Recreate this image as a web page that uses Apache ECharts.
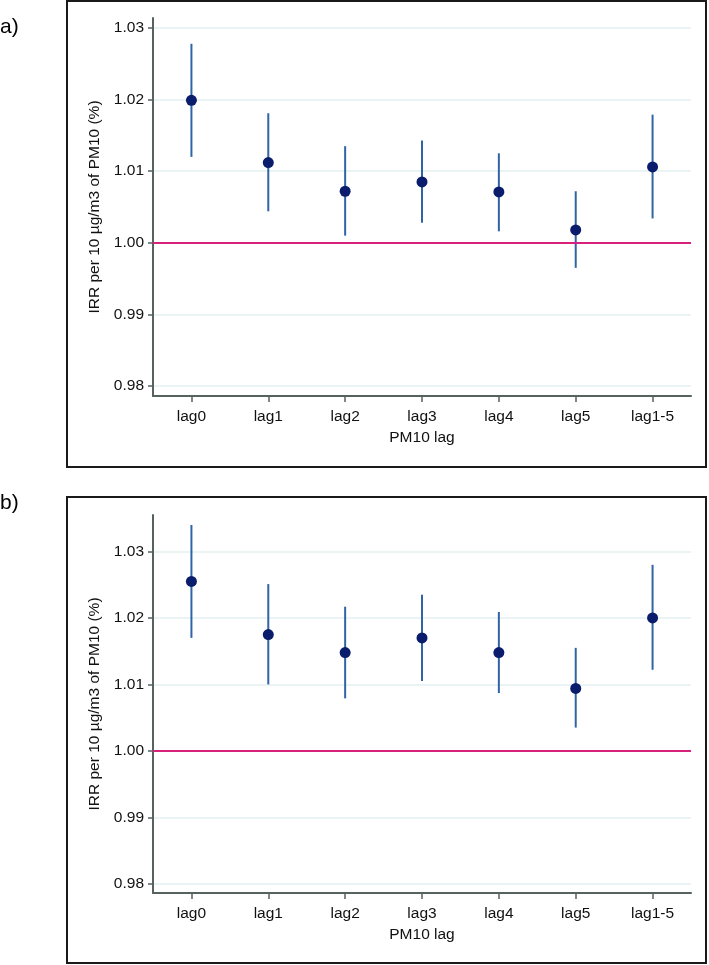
<!DOCTYPE html>
<html><head><meta charset="utf-8">
<script src="https://cdn.jsdelivr.net/npm/echarts@6/dist/echarts.min.js"></script>
<style>html,body{margin:0;padding:0;background:#fff}#c{width:709px;height:965px}</style>
</head><body><div id="c"></div>
<script>
const categories = ['lag0','lag1','lag2','lag3','lag4','lag5','lag1-5'];
const yTicks = [0.98, 0.99, 1.00, 1.01, 1.02, 1.03];
// Panel a
const aEst  = [1.0199, 1.0112, 1.0072, 1.0085, 1.0071, 1.0018, 1.0106];
const aLow  = [1.0120, 1.0044, 1.0010, 1.0028, 1.0016, 0.9965, 1.0034];
const aHigh = [1.0278, 1.0181, 1.0135, 1.0143, 1.0125, 1.0072, 1.0179];
// Panel b
const bEst  = [1.0255, 1.0175, 1.0148, 1.0170, 1.0148, 1.0094, 1.0200];
const bLow  = [1.0170, 1.0100, 1.0079, 1.0105, 1.0087, 1.0035, 1.0122];
const bHigh = [1.0340, 1.0251, 1.0217, 1.0235, 1.0209, 1.0155, 1.0280];
const aRange = [0.9786, 1.0314];
const bRange = [0.9786, 1.0355];

const FONT = '"Liberation Sans", Arial, sans-serif';
const FS = 15.5;
const AXIS_COLOR = '#56625f';
const BAR_COLOR = '#2f64a6';
const DOT_COLOR = '#0a1d6c';
const REF_COLOR = '#d8217a';
const GRID_COLOR = '#e4f1f1';

function yAxisFor(idx, range) {
  return {
    type: 'value', gridIndex: idx, min: range[0], max: range[1],
    name: 'IRR per 10 µg/m3 of PM10 (%)', nameLocation: 'middle', nameGap: 49,
    nameTextStyle: {fontFamily: FONT, fontSize: FS, color: '#111'},
    axisLine: {show: true, lineStyle: {color: AXIS_COLOR, width: 2}},
    axisTick: {show: true, length: 5, customValues: yTicks, lineStyle: {color: AXIS_COLOR, width: 1.5}},
    axisLabel: {customValues: yTicks, fontFamily: FONT, fontSize: FS, color: '#111', margin: 9,
      formatter: v => v.toFixed(2)},
    splitLine: {show: true, lineStyle: {color: GRID_COLOR, width: 1.5}}
  };
}
function xAxisFor(idx) {
  return {
    type: 'category', gridIndex: idx, data: categories, boundaryGap: true,
    name: 'PM10 lag', nameLocation: 'middle', nameGap: 34,
    nameTextStyle: {fontFamily: FONT, fontSize: FS, color: '#111'},
    axisLine: {show: true, lineStyle: {color: AXIS_COLOR, width: 2}},
    axisTick: {show: true, alignWithLabel: true, length: 6, lineStyle: {color: AXIS_COLOR, width: 1.5}},
    axisLabel: {fontFamily: FONT, fontSize: FS, color: '#111', margin: 13},
    splitLine: {show: false}
  };
}
function barSeries(idx, low, high) {
  return {
    type: 'custom', xAxisIndex: idx, yAxisIndex: idx, z: 3,
    data: categories.map((c, i) => [i, low[i], high[i]]),
    renderItem: function (params, api) {
      const p1 = api.coord([api.value(0), api.value(1)]);
      const p2 = api.coord([api.value(0), api.value(2)]);
      return {type: 'line', shape: {x1: p1[0], y1: p1[1], x2: p2[0], y2: p2[1]},
        style: {stroke: BAR_COLOR, lineWidth: 2}};
    }
  };
}
function dotSeries(idx, est) {
  return {
    type: 'scatter', xAxisIndex: idx, yAxisIndex: idx, z: 4,
    symbol: 'circle', symbolSize: 11,
    itemStyle: {color: DOT_COLOR, opacity: 1},
    data: est.map((v, i) => [i, v]),
    markLine: {silent: true, symbol: 'none', label: {show: false},
      lineStyle: {color: REF_COLOR, width: 2, type: 'solid'},
      data: [{yAxis: 1.00}]}
  };
}

const chart = echarts.init(document.getElementById('c'), null, {renderer: 'canvas'});
chart.setOption({
  animation: false,
  backgroundColor: '#fff',
  grid: [
    {left: 153, width: 538, top: 18, height: 378},
    {left: 153, width: 538, top: 515, height: 378}
  ],
  xAxis: [xAxisFor(0), xAxisFor(1)],
  yAxis: [yAxisFor(0, aRange), yAxisFor(1, bRange)],
  series: [
    barSeries(0, aLow, aHigh), dotSeries(0, aEst),
    barSeries(1, bLow, bHigh), dotSeries(1, bEst)
  ],
  graphic: [
    {type: 'rect', shape: {x: 67, y: 1, width: 639, height: 466}, style: {fill: 'none', stroke: '#1a1a1a', lineWidth: 2}, silent: true, z: -1},
    {type: 'rect', shape: {x: 67, y: 497, width: 639, height: 466}, style: {fill: 'none', stroke: '#1a1a1a', lineWidth: 2}, silent: true, z: -1},
    {type: 'text', left: 0, top: 17, style: {text: 'a)', fontFamily: FONT, fontSize: 21, fill: '#000'}},
    {type: 'text', left: 0, top: 493, style: {text: 'b)', fontFamily: FONT, fontSize: 21, fill: '#000'}}
  ]
});
</script></body></html>
